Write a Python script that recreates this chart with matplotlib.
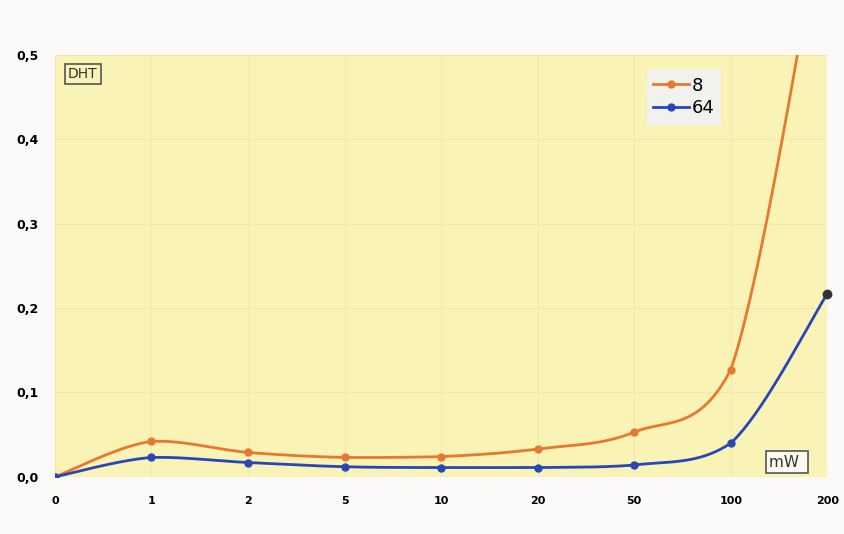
import numpy as np
import matplotlib.pyplot as plt

# power steps (categorical axis) and DHT values
power_labels = ['0', '1', '2', '5', '10', '20', '50', '100', '200']
dht_8 = [0.0, 0.042, 0.029, 0.023, 0.024, 0.033, 0.053, 0.127, 0.70]
dht_64 = [0.0, 0.023, 0.017, 0.012, 0.011, 0.011, 0.014, 0.040, 0.217]


def smooth(x, y, n=40):
    # bezier smoothing with control points kept inside each segment's range
    x = np.asarray(x, float)
    y = np.asarray(y, float)
    px = np.concatenate([[x[0]], x, [x[-1]]])
    py = np.concatenate([[y[0]], y, [y[-1]]])
    xs, ys = [], []
    for i in range(1, len(px) - 2):
        p0, p1, p2, p3 = (np.array([px[j], py[j]]) for j in (i - 1, i, i + 1, i + 2))
        c1 = p1 + (p2 - p0) / 6
        c2 = p2 - (p3 - p1) / 6
        lo, hi = min(p1[1], p2[1]), max(p1[1], p2[1])
        pad = 0.15 * (hi - lo)
        c1[1] = np.clip(c1[1], lo - pad, hi + pad)
        c2[1] = np.clip(c2[1], lo, hi)
        t = np.linspace(0, 1, n)[:, None]
        pts = (1 - t) ** 3 * p1 + 3 * (1 - t) ** 2 * t * c1 + 3 * (1 - t) * t ** 2 * c2 + t ** 3 * p2
        xs.extend(pts[:, 0])
        ys.extend(pts[:, 1])
    return np.array(xs), np.array(ys)


fig = plt.figure(figsize=(8.45, 5.34), dpi=100, facecolor='#fcfaf8')
ax = fig.add_axes([0.065, 0.107, 0.914, 0.79])
ax.set_facecolor('#f9f3b6')

x = np.arange(len(power_labels))
orange = '#e8782f'
blue = '#2747b8'

sx, sy = smooth(x, dht_8)
ax.plot(sx, sy, color=orange, lw=2)
ax.plot(x, dht_8, 'o', color=orange, ms=5)
sx, sy = smooth(x, dht_64)
ax.plot(sx, sy, color=blue, lw=2)
ax.plot(x, dht_64, 'o', color=blue, ms=5)
ax.plot(x[-1], dht_64[-1], 'o', color='#333333', ms=6, clip_on=False)

# legend proxies
ax.plot([], [], '-o', color=orange, ms=5, lw=2, label='8')
ax.plot([], [], '-o', color=blue, ms=5, lw=2, label='64')
leg = ax.legend(loc='upper left', bbox_to_anchor=(0.755, 0.985), fontsize=13,
                frameon=True, handlelength=2.0, handletextpad=0.1,
                borderpad=0.35, labelspacing=0.25, fancybox=False)
leg.get_frame().set_facecolor('#f1f1ee')
leg.get_frame().set_edgecolor('#f1f1ee')
leg.get_frame().set_alpha(1)

ax.set_xlim(0, 8)
ax.set_ylim(0, 0.5)
ax.set_xticks(x)
ax.set_xticklabels(power_labels, fontsize=8, fontweight='bold')
yt = [0.0, 0.1, 0.2, 0.3, 0.4, 0.5]
ax.set_yticks(yt)
ax.set_yticklabels([f'{v:.1f}'.replace('.', ',') for v in yt], fontsize=9, fontweight='bold')
ax.tick_params(length=0, pad=12)
ax.tick_params(axis='x', pad=14)
for s in ax.spines.values():
    s.set_visible(False)
ax.grid(True, color='#f3e9b0', lw=0.8)
ax.set_axisbelow(True)

ax.text(0.017, 0.955, 'DHT', transform=ax.transAxes, fontsize=10,
        color='#333333', va='center', ha='left',
        bbox=dict(boxstyle='square,pad=0.25', fc='#f9f3b6', ec='#555555', lw=1.2))
ax.text(0.925, 0.035, 'mW ', transform=ax.transAxes, fontsize=11,
        color='#333333', va='center', ha='left',
        bbox=dict(boxstyle='square,pad=0.25', fc='#fbfbf0', ec='#555555', lw=1.2))

fig.savefig('out.png', dpi=100, facecolor=fig.get_facecolor())
